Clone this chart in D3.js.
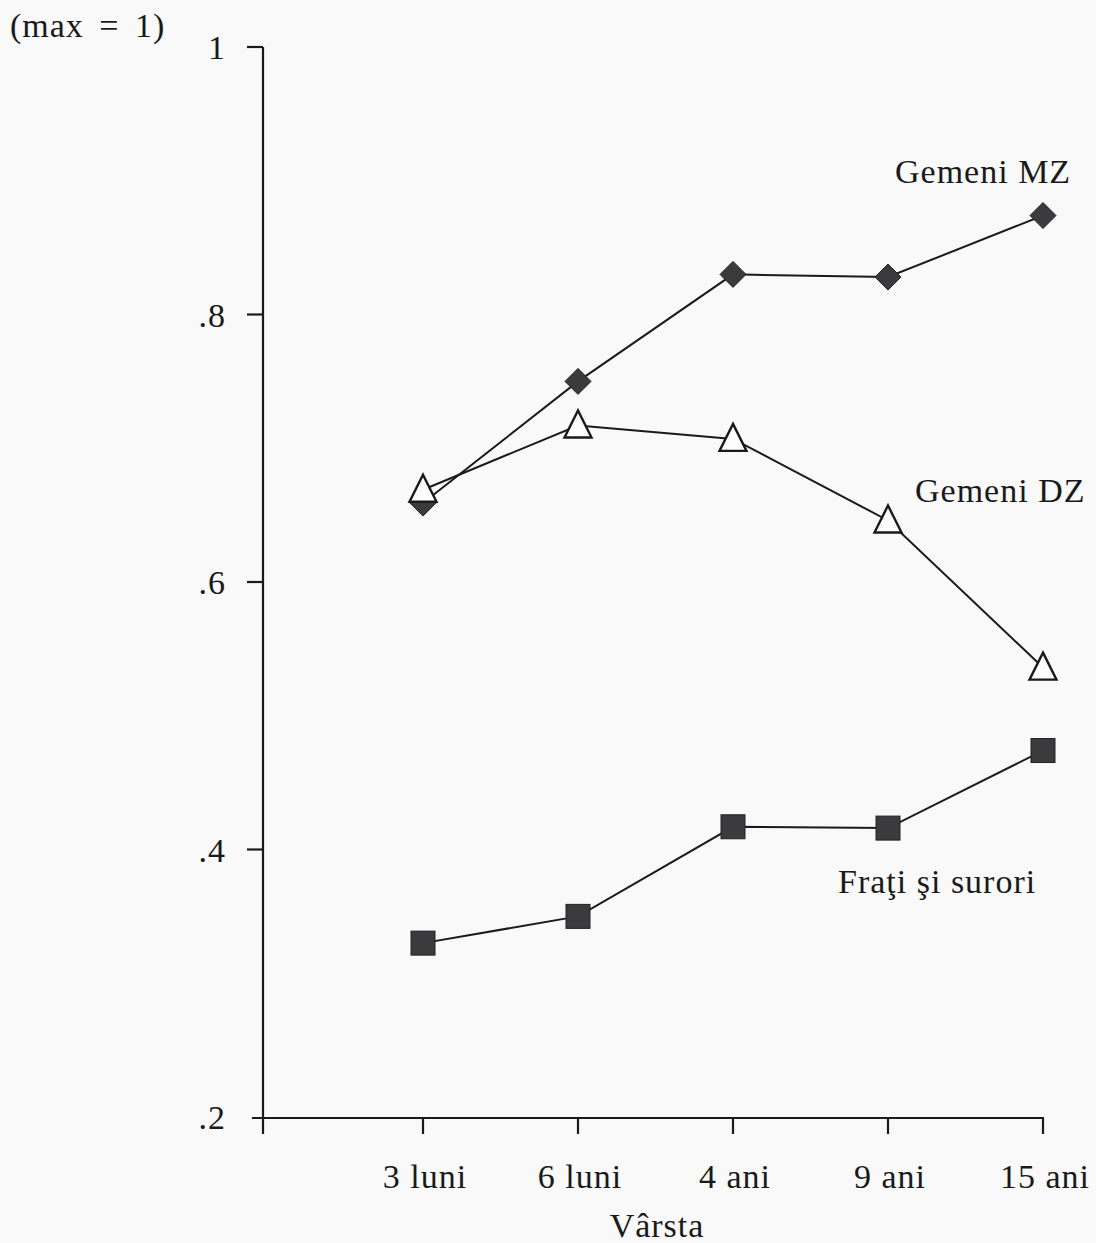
<!DOCTYPE html>
<html>
<head>
<meta charset="utf-8">
<script src="https://cdn.jsdelivr.net/npm/d3@7"></script>
<style>
  html, body { margin: 0; padding: 0; background: #f9f9f9; }
  svg { display: block; }
  text { font-family: "Liberation Serif", "Times New Roman", serif; fill: #1a1a1a; letter-spacing: 1px; }
</style>
</head>
<body>
<svg id="chart" width="1096" height="1243"></svg>
<script>
// ---- data ----
const categories = ["3 luni", "6 luni", "4 ani", "9 ani", "15 ani"];
const mzValues   = [0.659, 0.750, 0.830, 0.828, 0.874];
const dzValues   = [0.669, 0.717, 0.707, 0.646, 0.536];
const sibValues  = [0.330, 0.350, 0.417, 0.416, 0.474];
const yTicks     = [0.2, 0.4, 0.6, 0.8, 1];
const yTickLabels = [".2", ".4", ".6", ".8", "1"];
const seriesNames = ["Gemeni MZ", "Gemeni DZ", "Fraţi şi surori"];
const yTitle = "(max = 1)";
const xTitle = "Vârsta";

// ---- layout ----
const svg = d3.select("#chart");
const axisX = 263, axisY = 1118;
const x = d3.scalePoint().domain(categories).range([423, 1043]);
const y = d3.scaleLinear().domain([0.2, 1]).range([1117, 47]);
const ink = "#1a1a1a";
const fs = 34;

// y axis
svg.append("line").attr("x1", axisX).attr("x2", axisX)
  .attr("y1", y(1)).attr("y2", axisY + 16)
  .attr("stroke", ink).attr("stroke-width", 2.2);
const yt = svg.append("g");
yt.selectAll("line").data(yTicks.filter(d => d > 0.2)).join("line")
  .attr("x1", axisX - 16).attr("x2", axisX)
  .attr("y1", d => y(d)).attr("y2", d => y(d))
  .attr("stroke", ink).attr("stroke-width", 2.2);
yt.selectAll("text").data(yTicks).join("text")
  .attr("x", 226).attr("y", d => y(d) + 12)
  .attr("text-anchor", "end").attr("font-size", fs)
  .text((d, i) => yTickLabels[i]);

// x axis
svg.append("line").attr("x1", 252).attr("x2", x(categories[categories.length - 1]) + 1)
  .attr("y1", axisY).attr("y2", axisY)
  .attr("stroke", ink).attr("stroke-width", 2.2);
const xt = svg.append("g");
xt.selectAll("line").data(categories).join("line")
  .attr("x1", d => x(d)).attr("x2", d => x(d))
  .attr("y1", axisY).attr("y2", axisY + 16)
  .attr("stroke", ink).attr("stroke-width", 2.2);
xt.selectAll("text").data(categories).join("text")
  .attr("x", d => x(d) + 2).attr("y", 1188)
  .attr("text-anchor", "middle").attr("font-size", fs)
  .text(d => d);

// titles
svg.append("text").attr("x", 10).attr("y", 37).attr("font-size", fs)
  .attr("word-spacing", "6px").text(yTitle);
svg.append("text").attr("x", 657).attr("y", 1237).attr("text-anchor", "middle")
  .attr("font-size", fs).text(xTitle);

// lines
const line = d3.line().x((d, i) => x(categories[i])).y(d => y(d));
[mzValues, dzValues, sibValues].forEach(vals => {
  svg.append("path").attr("d", line(vals))
    .attr("fill", "none").attr("stroke", ink).attr("stroke-width", 2);
});

// markers
const fillDark = "#3b3b3d";
// siblings: squares
svg.append("g").selectAll("rect").data(sibValues).join("rect")
  .attr("x", (d, i) => x(categories[i]) - 12).attr("y", d => y(d) - 12)
  .attr("width", 24).attr("height", 24)
  .attr("fill", fillDark).attr("stroke", "#222").attr("stroke-width", 1);
// MZ: diamonds
svg.append("g").selectAll("path").data(mzValues).join("path")
  .attr("d", "M0,-13 L13,0 L0,13 L-13,0 Z")
  .attr("transform", (d, i) => `translate(${x(categories[i])},${y(d)})`)
  .attr("fill", fillDark).attr("stroke", "#222").attr("stroke-width", 1);
// DZ: open triangles
svg.append("g").selectAll("path").data(dzValues).join("path")
  .attr("d", "M0,-15 L13.5,12 L-13.5,12 Z")
  .attr("transform", (d, i) => `translate(${x(categories[i])},${y(d)})`)
  .attr("fill", "#fdfdfd").attr("stroke", ink).attr("stroke-width", 2.4)
  .attr("stroke-linejoin", "miter");

// series labels
const labelPos = [[895, 183], [915, 502], [838, 893]];
svg.append("g").selectAll("text").data(seriesNames).join("text")
  .attr("x", (d, i) => labelPos[i][0]).attr("y", (d, i) => labelPos[i][1])
  .attr("font-size", fs).text(d => d);
</script>
</body>
</html>
